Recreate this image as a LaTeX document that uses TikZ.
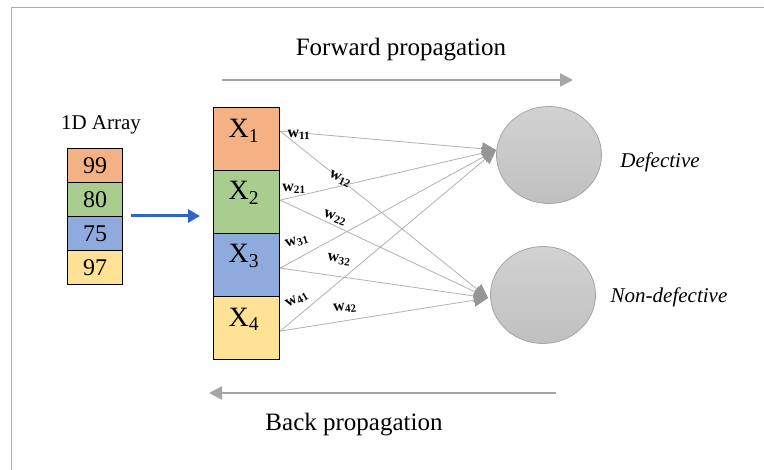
\documentclass[tikz,border=0pt]{standalone}
\usepackage{fontspec}
\setmainfont{Liberation Serif}
\usetikzlibrary{arrows.meta,shapes.geometric}
\definecolor{framecol}{RGB}{150,175,228}
\definecolor{orangec}{RGB}{244,177,131}
\definecolor{greenc}{RGB}{169,205,142}
\definecolor{bluec}{RGB}{143,170,220}
\definecolor{yellowc}{RGB}{255,226,150}
\definecolor{linec}{RGB}{178,178,178}
\definecolor{tipc}{RGB}{150,150,150}
\definecolor{bigarrow}{RGB}{165,165,165}
\definecolor{bluearrow}{RGB}{50,100,200}
\definecolor{circtop}{RGB}{210,210,210}
\definecolor{circbot}{RGB}{192,192,192}
\definecolor{circline}{RGB}{165,165,165}
\tikzset{
  cell/.style={draw=black, line width=1.2pt, anchor=north west, inner sep=0pt},
  smallcell/.style={cell, minimum width=55pt, minimum height=34pt, font=\fontsize{24}{26}\selectfont},
  bigcell/.style={cell, minimum width=66pt, minimum height=63pt},
  xlabel/.style={font=\fontsize{28}{30}\selectfont, inner sep=0pt},
  wlabel/.style={font=\fontsize{16}{17}\selectfont\bfseries, inner sep=0pt},
  conn/.style={draw=linec, line width=0.8pt, -{Triangle[length=14pt,width=13pt,color=tipc]}},
  flow/.style={draw=bigarrow, line width=2.6pt, -{Triangle[length=13pt,width=13pt]}},
  outc/.style={ellipse, draw=circline, line width=0.8pt, top color=circtop, bottom color=circbot, minimum width=105pt, minimum height=97pt, inner sep=0pt},
  title/.style={font=\fontsize{25}{28}\selectfont, inner sep=0pt},
  outlabel/.style={font=\fontsize{21}{24}\selectfont\itshape, inner sep=0pt}
}
\begin{document}
\begin{tikzpicture}[x=1pt,y=-1pt]
\useasboundingbox (0,0) rectangle (764,470);
\fill[white] (0,0) rectangle (764,470);
\draw[framecol, line width=1.4pt] (11.5,470) -- (11.5,7.5) -- (764,7.5);

% titles and flow arrows
\node[title] (fwd) at (401,50) {Forward propagation};
\coordinate (fwdA) at (222,80);
\coordinate (fwdB) at (573,80);
\draw[flow] (fwdA) -- (fwdB);
\node[title] (bwd) at (354,425) {Back propagation};
\coordinate (bwdA) at (556,393);
\coordinate (bwdB) at (209,393);
\draw[flow] (bwdA) -- (bwdB);

% 1D array
\node[font=\fontsize{21}{24}\selectfont, inner sep=0pt] (arrtitle) at (101,125) {1D Array};
\node[smallcell, fill=orangec] (a1) at (67,148) {99};
\node[smallcell, fill=greenc] (a2) at (67,182) {80};
\node[smallcell, fill=bluec] (a3) at (67,216) {75};
\node[smallcell, fill=yellowc] (a4) at (67,250) {97};
\coordinate (bA) at (131,216);
\coordinate (bB) at (200,216);
\draw[bluearrow, line width=3pt, -{Triangle[length=12pt,width=13pt]}] (bA) -- (bB);

% input column
\node[bigcell, fill=orangec] (x1) at (213,107) {};
\node[bigcell, fill=greenc] (x2) at (213,170) {};
\node[bigcell, fill=bluec] (x3) at (213,233) {};
\node[bigcell, fill=yellowc] (x4) at (213,296) {};
\node[xlabel] (lx1) at (244,131) {X\textsubscript{1}};
\node[xlabel] (lx2) at (244,193) {X\textsubscript{2}};
\node[xlabel] (lx3) at (244,256) {X\textsubscript{3}};
\node[xlabel] (lx4) at (244,319) {X\textsubscript{4}};

% outputs
\node[outc] (o1) at (549,155) {};
\node[outc] (o2) at (543,295) {};
\node[outlabel] (d1) at (660,162) {Defective};
\node[outlabel] (d2) at (669,297) {Non-defective};

\coordinate (s1) at ([yshift=8]x1.east);
\coordinate (s2) at ([yshift=2]x2.east);
\coordinate (s3) at ([yshift=-3]x3.east);
\coordinate (s4) at ([yshift=-3]x4.east);
\coordinate (t1) at ([yshift=5]o1.west);
\coordinate (t2) at ([xshift=-2,yshift=-3]o2.west);

\foreach \s in {s1,s2,s3,s4}{
  \draw[conn] (\s) -- (t1);
  \draw[conn] (\s) -- (t2);
}

% weights
\node[wlabel] (w11) at (299,135) {w\textsubscript{11}};
\node[wlabel, rotate=-26] (w12) at (340,179) {w\textsubscript{12}};
\node[wlabel] (w21) at (294,189) {w\textsubscript{21}};
\node[wlabel, rotate=-18] (w22) at (335,218) {w\textsubscript{22}};
\node[wlabel, rotate=18] (w31) at (297,242) {w\textsubscript{31}};
\node[wlabel, rotate=-8] (w32) at (339,260) {w\textsubscript{32}};
\node[wlabel, rotate=30] (w41) at (297,300) {w\textsubscript{41}};
\node[wlabel, rotate=5] (w42) at (345,308) {w\textsubscript{42}};
\end{tikzpicture}
\end{document}
